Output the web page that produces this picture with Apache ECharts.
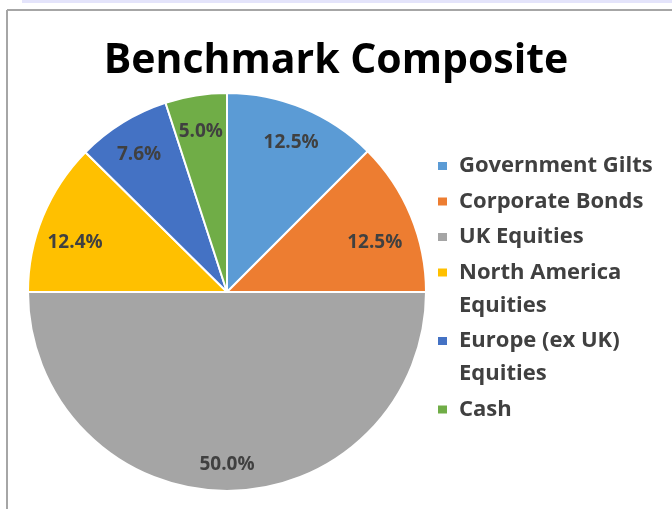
<!DOCTYPE html>
<html>
<head>
<meta charset="utf-8">
<script src="https://cdn.jsdelivr.net/npm/echarts@6/dist/echarts.min.js"></script>
<style>
  html, body { margin: 0; padding: 0; background: #fff; }
  #main { width: 672px; height: 509px; }
</style>
</head>
<body>
<div id="main"></div>
<script>
// data
const categories = ["Government Gilts", "Corporate Bonds", "UK Equities", "North America\nEquities", "Europe (ex UK)\nEquities", "Cash"];
const shares = [12.5, 12.5, 50.0, 12.4, 7.6, 5.0];
const colors = ["#5b9bd5", "#ed7d31", "#a5a5a5", "#ffc000", "#4472c4", "#70ad47"];

const chartDom = document.getElementById("main");
const myChart = echarts.init(chartDom);

const FONT = "'Open Sans', 'Noto Sans', sans-serif";
const LINE = 33;

const pieData = categories.map((name, i) => ({
  name: name,
  value: shares[i],
  itemStyle: { color: colors[i] }
}));

// Excel nudged the two side labels a bit lower
const labelNudge = { 1: [-7, 15], 3: [3, 14] };

// legend squares drawn in rich text so they sit on the first line (Excel style)
const rich = {
  t: { fontFamily: FONT, fontWeight: "bold", fontSize: 22, color: "#404040", lineHeight: LINE },
  gap: { width: 12, lineHeight: LINE },
  indent: { width: 21, lineHeight: LINE }
};
colors.forEach((c, i) => {
  rich["sq" + i] = { width: 9, height: 8, backgroundColor: c, lineHeight: LINE };
});

const option = {
  backgroundColor: "#fff",
  animation: false,
  title: {
    text: "Benchmark Composite",
    left: 336,
    top: 41,
    padding: 0,
    textAlign: "center",
    textStyle: { fontFamily: FONT, fontWeight: "bold", fontSize: 41, color: "#000" }
  },
  legend: {
    orient: "vertical",
    left: 431,
    top: 155,
    padding: 0,
    itemWidth: 1,
    itemHeight: 1,
    itemGap: 13.5,
    itemStyle: { opacity: 0 },
    data: categories,
    formatter: (name) => {
      const i = categories.indexOf(name);
      const lines = name.split("\n");
      return lines
        .map((s, k) => (k === 0 ? "{sq" + i + "|}{gap|}" : "{indent|}") + "{t|" + s + "}")
        .join("\n");
    },
    textStyle: { rich: rich }
  },
  graphic: [
    { type: "rect", left: 22, top: 0, shape: { width: 650, height: 3 }, style: { fill: "#e4e4fb" }, silent: true },
    { type: "line", shape: { x1: 7, y1: 10, x2: 672, y2: 10 }, style: { stroke: "#a6a6a6", lineWidth: 2 }, silent: true },
    { type: "line", shape: { x1: 7, y1: 10, x2: 7, y2: 509 }, style: { stroke: "#a6a6a6", lineWidth: 2 }, silent: true }
  ],
  series: [
    {
      type: "pie",
      center: [227, 292],
      radius: [0, 199],
      startAngle: 90,
      clockwise: true,
      data: pieData,
      itemStyle: { borderColor: "#fff", borderWidth: 2 },
      label: { show: false },
      labelLine: { show: false },
      emphasis: { disabled: true }
    },
    {
      // label ring over the pie so the labels land near the rim
      type: "pie",
      center: [227, 292],
      radius: [130, 199],
      startAngle: 90,
      clockwise: true,
      silent: true,
      data: pieData.map((d, i) => {
        const item = { name: d.name, value: d.value, itemStyle: { color: "rgba(0,0,0,0)" } };
        if (labelNudge[i]) item.label = { offset: labelNudge[i] };
        return item;
      }),
      itemStyle: { borderWidth: 0 },
      label: {
        show: true,
        position: "inside",
        offset: [0, 5],
        formatter: (p) => p.value.toFixed(1) + "%",
        fontFamily: FONT,
        fontWeight: "bold",
        fontSize: 19,
        color: "#404040"
      },
      labelLine: { show: false },
      emphasis: { disabled: true }
    }
  ]
};

option && myChart.setOption(option);
</script>
</body>
</html>
